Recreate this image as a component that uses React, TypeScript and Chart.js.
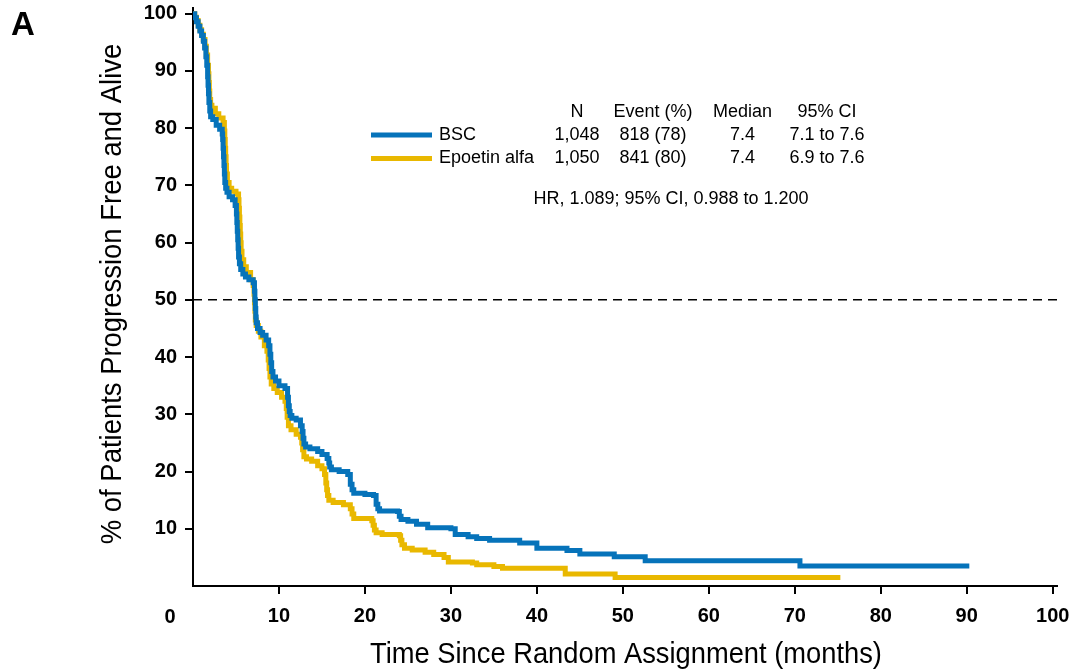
import React, { useEffect, useRef } from "react";
import { Chart, registerables } from "chart.js";

Chart.register(...registerables);

// ---- Data ----
const bscTime = [0,0.2,0.4,0.6,0.8,1.0,1.2,1.35,1.5,1.6,1.7,1.75,1.8,1.85,1.95,2.05,2.3,2.7,3.1,3.4,3.45,3.5,3.55,3.6,3.65,3.7,3.8,3.95,4.2,4.6,4.9,5.05,5.1,5.15,5.2,5.25,5.3,5.4,5.55,5.8,6.1,6.5,7.0,7.15,7.2,7.25,7.3,7.35,7.5,7.8,8.1,8.5,8.8,8.95,9.05,9.15,9.3,9.6,10.0,10.7,11.0,11.1,11.2,11.3,11.5,12.0,12.5,12.7,12.8,12.9,13.1,13.6,14.5,15.0,15.6,15.8,15.9,16.1,17.0,18.0,18.3,18.5,18.7,20.0,21.0,21.3,21.5,21.7,23.8,24.0,24.2,25.0,26.0,27.3,30.0,30.5,32.0,33.0,34.5,38.0,40.0,43.5,45.0,49.0,52.6,70.6,90.3];
const bscSurv = [100,99.3,98.6,97.8,97,96.2,95.2,94,92.5,91,89,87.5,86,84.5,83,82,81.5,80.5,79.8,79,78,76.5,75,73.5,72,70.5,69.5,68.8,68,67.5,66.5,65,63.5,62,60.5,59,57.5,56.3,55.3,54.5,54,53.5,53,51.5,50,48.5,47,46,45,44.3,43.8,43,42,40.5,39,37.5,36.5,35.8,35,34.5,33,31.5,30.5,29.8,29.3,29,28,27,25.8,24.8,24.3,24,23.5,23,22.3,21.5,20.8,20.3,20,19.5,17.8,16.8,16.2,16,15.8,14.3,13.5,13.1,13,12.2,11.6,11.3,10.8,10.2,10.0,9.0,8.6,8.3,8.0,7.5,6.6,6.2,5.6,5.1,4.4,3.5,3.5];

const epoTime = [0,0.2,0.4,0.6,0.8,1.0,1.2,1.4,1.55,1.7,1.8,1.85,1.9,1.95,2.05,2.2,2.6,3.0,3.5,3.65,3.7,3.75,3.8,3.85,3.9,4.0,4.2,4.5,5.0,5.3,5.35,5.4,5.45,5.5,5.55,5.6,5.7,5.9,6.2,6.7,7.0,7.1,7.15,7.2,7.25,7.35,7.6,7.9,8.3,8.6,8.75,8.85,8.95,9.1,9.4,9.8,10.3,10.7,10.85,10.95,11.1,11.4,12.0,12.5,12.65,12.75,12.9,13.2,13.8,14.5,15.0,15.3,15.45,15.55,15.65,15.8,16.3,17.5,18.3,18.5,18.7,20.8,20.95,21.1,21.3,22.0,24.0,24.15,24.3,24.6,25.5,27.0,28.0,29.2,29.7,32.5,33.0,35.0,36.0,43.3,49.1,75.3];
const epoSurv = [100,99.4,98.8,98,97.2,96.4,95.5,94.3,92.8,91,89.5,88,86.5,85,84,83.5,82.5,81.8,81,79.5,78,76.5,75,73.5,72,70.5,69.5,69,68.5,67.5,66,64.5,63,61.5,60,58.5,57,55.8,54.8,53.5,52.5,51,49.5,48,46.5,45.5,44.5,43.5,42,41,39.5,38,36.5,35.3,34.5,33.8,33,32.3,31,29.5,28,27.3,26.5,26,25,23.8,22.6,22.2,21.8,21,20.5,19.5,18,16.8,15.8,15,14.6,14.2,13.5,12.6,11.8,11.4,10.6,9.8,9.3,9,8.8,8,7.2,6.6,6.3,5.9,5.5,5.0,4.2,4.0,3.7,3.4,3.1,2.1,1.5,1.5];

const seriesNames = ["BSC", "Epoetin alfa"];
const seriesColors = ["#0673BA", "#E9B800"];
const tableHeader = ["N", "Event (%)", "Median", "95% CI"];
const tableBsc = ["1,048", "818 (78)", "7.4", "7.1 to 7.6"];
const tableEpo = ["1,050", "841 (80)", "7.4", "6.9 to 7.6"];
const hrText = "HR, 1.089; 95% CI, 0.988 to 1.200";
const medianRef = 50;

const xTicks = [10, 20, 30, 40, 50, 60, 70, 80, 90, 100];
const yTicks = [10, 20, 30, 40, 50, 60, 70, 80, 90, 100];
const xZeroLabel = "0";
const panelLabel = "A";
const xTitle = "Time Since Random Assignment (months)";
const yTitle = "% of Patients Progression Free and Alive";

const FONT = '"Liberation Sans", Arial, Helvetica, sans-serif';

const annotPlugin = {
  id: "annot",
  afterDraw(chart: any) {
    const ctx = chart.ctx as CanvasRenderingContext2D;
    ctx.save();
    ctx.fillStyle = "#000";

    // panel label
    ctx.font = `bold 33px ${FONT}`;
    ctx.textAlign = "left";
    ctx.textBaseline = "alphabetic";
    ctx.fillText(panelLabel, 11, 35);

    // zero label at corner
    ctx.font = `bold 20px ${FONT}`;
    ctx.textAlign = "center";
    ctx.textBaseline = "middle";
    ctx.fillText(xZeroLabel, 170, 617);

    // x title (condensed)
    ctx.save();
    ctx.font = `30px ${FONT}`;
    ctx.textAlign = "center";
    ctx.textBaseline = "alphabetic";
    ctx.translate(626, 663);
    ctx.scale(0.91, 1);
    ctx.fillText(xTitle, 0, 0);
    ctx.restore();

    // y title
    ctx.save();
    ctx.font = `30px ${FONT}`;
    ctx.textAlign = "center";
    ctx.textBaseline = "alphabetic";
    ctx.translate(121, 294);
    ctx.rotate(-Math.PI / 2);
    ctx.scale(0.915, 1);
    ctx.fillText(yTitle, 0, 0);
    ctx.restore();

    // legend table
    const colX = [577, 653, 742.5, 827];
    const rowY = [112.5, 135, 158.5];
    ctx.font = `18px ${FONT}`;
    ctx.textBaseline = "middle";
    ctx.textAlign = "center";
    tableHeader.forEach((t, i) => ctx.fillText(t, colX[i], rowY[0]));
    tableBsc.forEach((t, i) => ctx.fillText(t, colX[i], rowY[1]));
    tableEpo.forEach((t, i) => ctx.fillText(t, colX[i], rowY[2]));
    ctx.textAlign = "left";
    ctx.fillText(seriesNames[0], 439, rowY[1]);
    ctx.fillText(seriesNames[1], 439, rowY[2]);
    ctx.textAlign = "center";
    ctx.fillText(hrText, 671, 199);

    ctx.lineWidth = 5;
    ctx.lineCap = "butt";
    [0, 1].forEach((i) => {
      ctx.strokeStyle = seriesColors[i];
      ctx.beginPath();
      ctx.moveTo(371, rowY[i + 1]);
      ctx.lineTo(432, rowY[i + 1]);
      ctx.stroke();
    });

    ctx.restore();
  },
};

export default function App() {
  const ref = useRef<HTMLCanvasElement>(null);

  useEffect(() => {
    if (!ref.current) return;
    const bscData = bscTime.map((t, i) => ({ x: t, y: bscSurv[i] }));
    const epoData = epoTime.map((t, i) => ({ x: t, y: epoSurv[i] }));
    const refData = [
      { x: 0, y: medianRef },
      { x: 100.5, y: medianRef },
    ];

    const chart = new Chart(ref.current, {
      type: "line",
      data: {
        datasets: [
          {
            label: seriesNames[0],
            data: bscData,
            borderColor: seriesColors[0],
            borderWidth: 5,
            pointRadius: 0,
            stepped: "before",
            fill: false,
            order: 0,
          },
          {
            label: seriesNames[1],
            data: epoData,
            borderColor: seriesColors[1],
            borderWidth: 5,
            pointRadius: 0,
            stepped: "before",
            fill: false,
            order: 1,
          },
          {
            label: "ref",
            data: refData,
            borderColor: "#000",
            borderWidth: 1.5,
            borderDash: [9, 6],
            pointRadius: 0,
            fill: false,
            order: 2,
          },
        ],
      },
      options: {
        responsive: false,
        maintainAspectRatio: false,
        animation: false,
        events: [],
        layout: { padding: { top: 8, right: 19, left: 0, bottom: 0 } },
        plugins: {
          legend: { display: false },
          tooltip: { enabled: false },
        },
        scales: {
          x: {
            type: "linear",
            min: 0,
            max: 100.5,
            afterBuildTicks: (axis: any) => {
              axis.ticks = xTicks.map((v) => ({ value: v }));
            },
            afterFit: (scale: any) => {
              scale.height = 86;
              scale.paddingLeft = 0;
              scale.paddingRight = 0;
            },
            grid: {
              drawOnChartArea: false,
              drawTicks: true,
              tickLength: 8,
              color: "#000",
              lineWidth: 2,
            },
            border: { display: true, color: "#000", width: 2 },
            ticks: {
              color: "#000",
              font: { family: FONT, size: 20, weight: "bold" },
              padding: 10,
              maxRotation: 0,
              autoSkip: false,
            },
          },
          y: {
            type: "linear",
            min: 0,
            max: 101,
            afterBuildTicks: (axis: any) => {
              axis.ticks = yTicks.map((v) => ({ value: v }));
            },
            afterFit: (scale: any) => {
              scale.width = 193;
              scale.paddingTop = 0;
              scale.paddingBottom = 0;
            },
            grid: {
              drawOnChartArea: false,
              drawTicks: true,
              tickLength: 8,
              color: "#000",
              lineWidth: 2,
            },
            border: { display: true, color: "#000", width: 2 },
            ticks: {
              color: "#000",
              font: { family: FONT, size: 20, weight: "bold" },
              padding: 8,
              autoSkip: false,
            },
          },
        },
      },
      plugins: [annotPlugin],
    });
    return () => chart.destroy();
  }, []);

  return (
    <div style={{ position: "absolute", left: 0, top: 0, width: 1076, height: 672, background: "#fff" }}>
      <canvas ref={ref} width={1076} height={672} style={{ display: "block" }} />
    </div>
  );
}
